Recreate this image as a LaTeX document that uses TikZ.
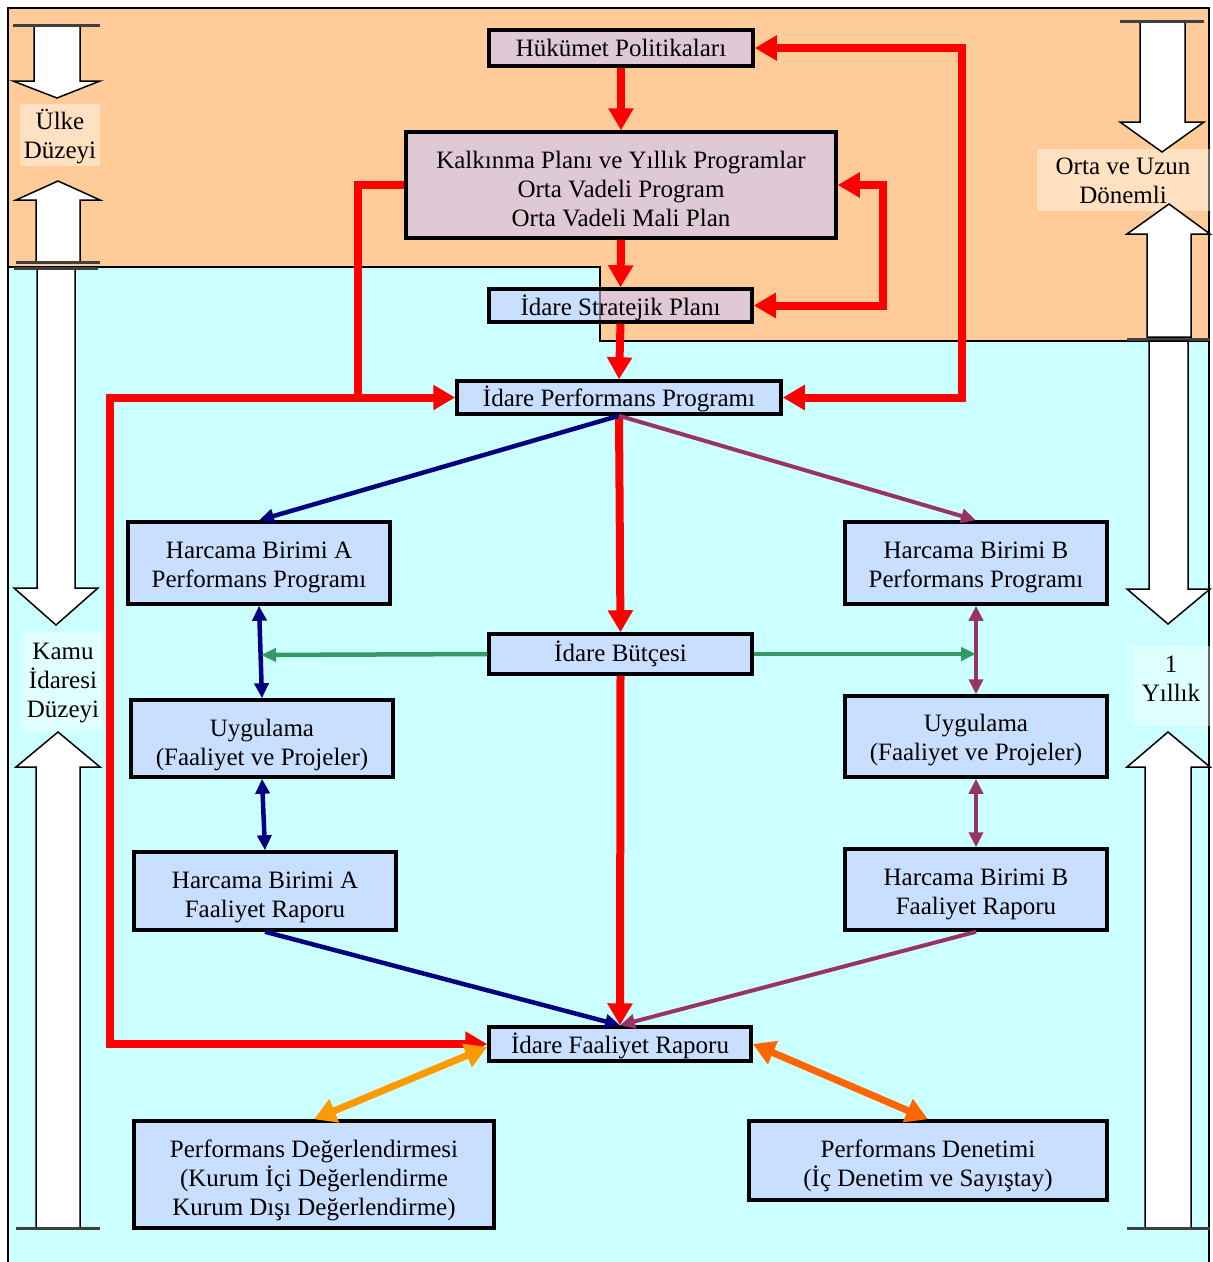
\documentclass[tikz,border=0pt]{standalone}
\usepackage{fontspec}
\setmainfont{Liberation Serif}
\usetikzlibrary{arrows.meta,calc}
\definecolor{orbg}{HTML}{FFCC99}
\definecolor{cybg}{HTML}{CCFFFF}
\definecolor{boxfill}{HTML}{C8C8FF}
\definecolor{navyc}{HTML}{000080}
\definecolor{plum}{HTML}{993366}
\definecolor{seag}{HTML}{339966}
\definecolor{orA}{HTML}{FF9900}
\definecolor{orB}{HTML}{FF6600}
\tikzset{
  txt/.style={font=\fontsize{25}{29}\selectfont, align=center, inner sep=0pt},
  box/.style={draw=black, line width=3.5pt, fill=boxfill, fill opacity=0.58, inner sep=0pt},
  lab/.style={fill=white, fill opacity=0.4, inner sep=0pt},
  blk/.style={draw=black, line width=1.5pt, fill=white, line join=miter},
  bar/.style={draw=black!75, line width=3pt},
  redl/.style={draw=red, line width=8pt},
  redarr/.style={redl, -{Triangle[length=22pt,width=24pt]}},
  redboth/.style={redl, {Triangle[length=22pt,width=24pt]}-{Triangle[length=22pt,width=24pt]}},
  navyarr/.style={draw=navyc, line width=4.5pt, -{Triangle[length=15pt,width=14pt]}},
  navyboth/.style={draw=navyc, line width=4.5pt, {Triangle[length=15pt,width=14pt]}-{Triangle[length=15pt,width=14pt]}},
  plumarr/.style={draw=plum, line width=4pt, -{Triangle[length=15pt,width=14pt]}},
  plumboth/.style={draw=plum, line width=4pt, {Triangle[length=15pt,width=14pt]}-{Triangle[length=15pt,width=14pt]}},
  greenarr/.style={draw=seag, line width=4.5pt, -{Triangle[length=15pt,width=13pt]}},
  oraboth/.style={draw=#1, line width=7pt, {Triangle[length=22pt,width=24pt]}-{Triangle[length=22pt,width=24pt]}}
}
% name, x, y, width, height, text shift, text
\newcommand{\mkbox}[7]{%
  \node[box, minimum width=#4pt, minimum height=#5pt] (#1) at (#2,#3) {};
  \node[txt] (#1-t) at ([yshift=#6pt]#1.center) {#7};}
\newcommand{\mklab}[7]{%
  \node[lab, minimum width=#4pt, minimum height=#5pt] (#1) at (#2,#3) {};
  \node[txt] (#1-t) at ([yshift=#6pt]#1.center) {#7};}
\begin{document}
\begin{tikzpicture}[x=1pt,y=-1pt]
\useasboundingbox (0,0) rectangle (1213,1262);
\fill[white] (0,0) rectangle (1213,1262);
% backgrounds
\fill[orbg] (8,8) rectangle (1209,267);
\fill[orbg] (600,267) rectangle (1209,341);
\fill[cybg] (8,267) -- (600,267) -- (600,341) -- (1209,341) -- (1209,1262) -- (8,1262) -- cycle;
\draw[line width=1.5pt] (8,267) -- (600,267) -- (600,341) -- (1209,341);
\draw[line width=2pt] (8,1262) -- (8,8) -- (1209,8) -- (1209,1262);
% side labels
\mklab{ulke}{60}{135}{80}{62}{-2}{Ülke\\Düzeyi}
\mklab{kamu}{63}{681}{80}{99}{-2}{Kamu\\İdaresi\\Düzeyi}
\mklab{orta}{1123}{180}{173}{62}{-1}{Orta ve Uzun\\Dönemli}
\mklab{yil}{1171}{686}{77}{80}{7}{1\\Yıllık}
% block arrows left
\draw[blk] (34,25) -- (80,25) -- (80,81) -- (100,81) -- (57,98) -- (13,81) -- (34,81) -- cycle;
\draw[bar] (13,25) -- (100,25);
\draw[blk] (36,262) -- (36,200) -- (16,200) -- (58,181) -- (100,200) -- (80,200) -- (80,262) -- cycle;
\draw[bar] (16,262) -- (100,262);
\draw[blk] (37,268) -- (75,268) -- (75,588) -- (98,588) -- (56,625) -- (14,588) -- (37,588) -- cycle;
\draw[bar] (14,268) -- (98,268);
\draw[blk] (36,1228) -- (36,767) -- (16,767) -- (58,732) -- (100,767) -- (80,767) -- (80,1228) -- cycle;
\draw[bar] (16,1228) -- (100,1228);
% block arrows right
\draw[blk] (1140,21) -- (1185,21) -- (1185,122) -- (1204,122) -- (1162,152) -- (1120,122) -- (1140,122) -- cycle;
\draw[bar] (1120,21) -- (1204,21);
\draw[blk] (1147,337) -- (1147,234) -- (1127,234) -- (1169,204) -- (1210,234) -- (1191,234) -- (1191,337) -- cycle;
\draw[bar] (1127,339) -- (1210,339);
\draw[blk] (1149,341) -- (1188,341) -- (1188,589) -- (1210,589) -- (1168,624) -- (1127,589) -- (1149,589) -- cycle;
\draw[blk] (1145,1228) -- (1145,767) -- (1127,767) -- (1168,732) -- (1210,767) -- (1191,767) -- (1191,1228) -- cycle;
\draw[bar] (1127,1228) -- (1210,1228);
% boxes
\mkbox{hp}{621}{48}{264}{36}{0}{Hükümet Politikaları}
\mkbox{kalk}{621}{185}{430}{106}{-4}{Kalkınma Planı ve Yıllık Programlar\\Orta Vadeli Program\\Orta Vadeli Mali Plan}
\mkbox{sp}{620.5}{305.5}{263}{33}{-2}{İdare Stratejik Planı}
\mkbox{perf}{619}{397.5}{324}{33}{-1}{İdare Performans Programı}
\mkbox{hbapp}{259}{563}{262}{82}{-4}{Harcama Birimi A\\Performans Programı}
\mkbox{hbbpp}{976}{563}{262}{82}{-4}{Harcama Birimi B\\Performans Programı}
\mkbox{butce}{620.5}{654}{263}{40}{0}{İdare Bütçesi}
\mkbox{uyga}{262}{738.5}{262}{77}{-7}{Uygulama\\(Faaliyet ve Projeler)}
\mkbox{uygb}{976}{736.5}{262}{81}{-4}{Uygulama\\(Faaliyet ve Projeler)}
\mkbox{hbafr}{265}{891}{262}{78}{-6}{Harcama Birimi A\\Faaliyet Raporu}
\mkbox{hbbfr}{976}{889.5}{262}{81}{-5}{Harcama Birimi B\\Faaliyet Raporu}
\mkbox{fr}{620}{1044}{262}{34}{-2}{İdare Faaliyet Raporu}
\mkbox{pd}{314}{1174.5}{360}{107}{-6}{Performans Değerlendirmesi\\(Kurum İçi Değerlendirme\\Kurum Dışı Değerlendirme)}
\mkbox{pden}{928}{1160.5}{358}{79}{-5}{Performans Denetimi\\(İç Denetim ve Sayıştay)}
% helper coordinates
\coordinate (rr) at (962,0);
\coordinate (kr) at (883,0);
\coordinate (kl) at (358,0);
\coordinate (jl) at (110,397.5);
\coordinate (gl) at (261,655);
\coordinate (gr) at (976,654);
% red connectors
\draw[redarr] (hp.south) -- (kalk.north);
\draw[redarr] (kalk.south) -- (sp.north);
\draw[redarr] (sp.south) -- (perf.north);
\draw[redboth] (hp.east) -| (rr |- perf.east) -- (perf.east);
\draw[redboth] (kalk.east) -| (kr |- sp.east) -- (sp.east);
\draw[redl] (kalk.west) -| (kl |- perf.west);
\draw[redboth] (perf.west) -- (jl) |- (fr.west);
\draw[redarr] (perf.south) -- (butce.north);
\draw[redarr] (butce.south) -- (fr.north);
% navy
\draw[navyarr] (perf.south) -- (hbapp.north);
\draw[navyboth] (hbapp.south) -- (uyga.north);
\draw[navyboth] (uyga.south) -- (hbafr.north);
\draw[navyarr] (hbafr.south) -- (fr.north);
% plum
\draw[plumarr] (perf.south) -- (hbbpp.north);
\draw[plumboth] (hbbpp.south) -- (uygb.north);
\draw[plumboth] (uygb.south) -- (hbbfr.north);
\draw[plumarr] (hbbfr.south) -- (fr.north);
% green
\draw[greenarr] (butce.west) -- (gl);
\draw[greenarr] (butce.east) -- (gr);
% orange
\draw[oraboth=orA] ([yshift=-3pt]fr.west) -- (pd.north);
\draw[oraboth=orB] (fr.east) -- (pden.north);
\end{tikzpicture}
\end{document}
